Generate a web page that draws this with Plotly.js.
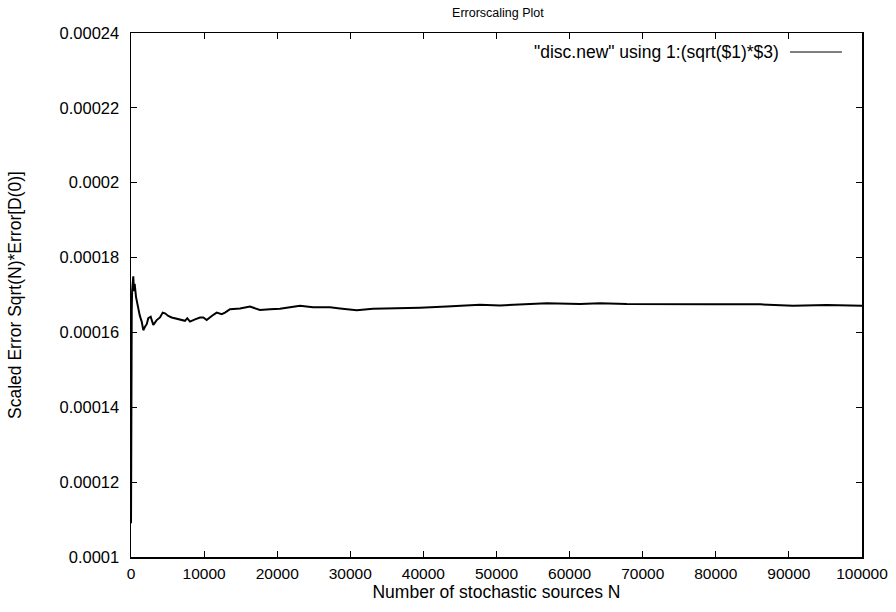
<!DOCTYPE html>
<html>
<head>
<meta charset="utf-8">
<script src="https://cdn.plot.ly/plotly-3.0.1.min.js"></script>
<style>html,body{margin:0;padding:0;background:#fff;}#chart{width:896px;height:612px;}</style>
</head>
<body>
<div id="chart"></div>
<script>
// Number of stochastic sources N
const sourcesN = [1, 10, 30, 60, 100, 150, 200, 250, 315, 400, 500, 684, 850, 999, 1200, 1464, 1683, 1915, 2150, 2367, 2695,
  3051, 3516, 3967, 4337, 4651, 5103, 5568, 6019, 6703, 7387, 7702, 8071, 8755, 9439, 9891, 10356, 11040,
  11724, 12408, 12859, 13543, 14911, 16279, 17647, 19015, 20383, 21751, 23119, 24898, 27223, 28591,
  30876, 33106, 36348, 39535, 43188, 45924, 47743, 50479, 54583, 56868, 61423, 64159, 67812, 72367,
  79207, 86047, 90562, 95172, 100000];
// Scaled error sqrt(N)*Error[D(0)]
const scaledError = [0.000109, 0.000128, 0.000135, 0.000152, 0.000166, 0.000171, 0.000174, 0.000172, 0.000175, 0.000171, 0.000173, 0.0001695, 0.000168, 0.000166, 0.0001645, 0.0001629, 0.0001606, 0.0001615, 0.0001622, 0.0001638, 0.0001642,
  0.0001620, 0.0001633, 0.0001640, 0.0001653, 0.0001651, 0.0001644, 0.0001640, 0.0001638, 0.0001635, 0.0001631, 0.0001638, 0.0001629, 0.0001635, 0.0001640, 0.0001640, 0.0001633, 0.0001644,
  0.0001653, 0.0001649, 0.0001653, 0.0001662, 0.0001664, 0.0001669, 0.0001660, 0.0001662, 0.0001663, 0.0001667, 0.0001671, 0.0001667, 0.0001667, 0.0001664,
  0.0001659, 0.0001663, 0.0001664, 0.0001666, 0.0001669, 0.0001672, 0.0001674, 0.0001672, 0.0001676, 0.0001678, 0.0001676, 0.0001678, 0.0001676, 0.0001675,
  0.0001675, 0.0001675, 0.0001671, 0.0001673, 0.0001671];

const yTickVals = [0.0001, 0.00012, 0.00014, 0.00016, 0.00018, 0.0002, 0.00022, 0.00024];
const yTickText = ["0.0001", "0.00012", "0.00014", "0.00016", "0.00018", "0.0002", "0.00022", "0.00024"];
const xTickVals = [0, 10000, 20000, 30000, 40000, 50000, 60000, 70000, 80000, 90000, 100000];
const xTickText = ["0", "10000", "20000", "30000", "40000", "50000", "60000", "70000", "80000", "90000", "100000"];
const seriesName = '"disc.new" using 1:(sqrt($1)*$3)';

const FONT = 'Liberation Sans, Arial, Helvetica, sans-serif';

const trace = {
  x: sourcesN, y: scaledError, type: 'scatter', mode: 'lines',
  line: {color: '#000000', width: 2}, name: seriesName, showlegend: false
};

const layout = {
  width: 896, height: 612,
  margin: {l: 131, r: 34, t: 33, b: 55},
  paper_bgcolor: '#ffffff', plot_bgcolor: '#ffffff',
  font: {family: FONT, size: 16, color: '#000000'},
  title: {text: 'Errorscaling Plot', font: {family: FONT, size: 12.5, color: '#000'}, x: 0.5557, xanchor: 'center', y: 0.98, yanchor: 'middle', yref: 'container'},
  xaxis: {
    range: [0, 100000], tickvals: xTickVals, ticktext: xTickText,
    ticks: 'inside', ticklen: 6, tickcolor: '#000', tickwidth: 1,
    showline: true, linecolor: '#000', linewidth: 1.5, mirror: 'ticks',
    showgrid: false, zeroline: false, ticklabelstandoff: 2,
    tickfont: {family: FONT, size: 15.5},
    title: {text: 'Number of stochastic sources N', font: {family: FONT, size: 17.5}, standoff: 4}
  },
  yaxis: {
    range: [0.0001, 0.00024], tickvals: yTickVals, ticktext: yTickText,
    ticks: 'inside', ticklen: 6, tickcolor: '#000', tickwidth: 1,
    showline: true, linecolor: '#000', linewidth: 1.5, mirror: 'ticks',
    showgrid: false, zeroline: false, ticklabelstandoff: 7,
    tickfont: {family: FONT, size: 16.5},
    title: {text: 'Scaled Error Sqrt(N)*Error[D(0)]', font: {family: FONT, size: 17.5}, standoff: 33}
  },
  annotations: [{
    xref: 'paper', yref: 'paper', x: 0.889, y: 0.9637, xanchor: 'right', yanchor: 'middle',
    text: seriesName, showarrow: false, font: {family: FONT, size: 17.5, color: '#000'}
  }],
  shapes: [{
    type: 'line', xref: 'paper', yref: 'paper', x0: 0.9015, x1: 0.9726, y0: 0.9637, y1: 0.9637,
    line: {color: '#000', width: 1}
  }]
};

Plotly.newPlot('chart', [trace], layout, {displayModeBar: false, staticPlot: true});
</script>
</body>
</html>
